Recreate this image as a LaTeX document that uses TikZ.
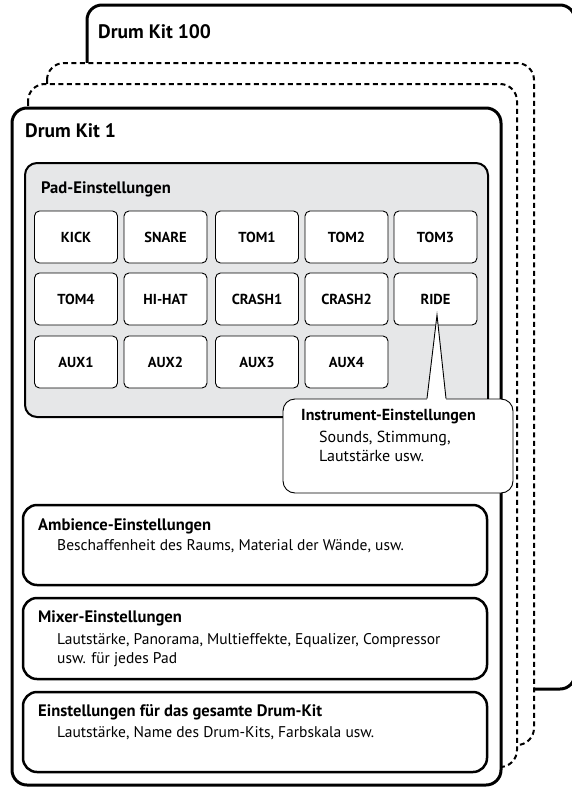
\documentclass[tikz,border=0pt]{standalone}
\usepackage{fontspec}
\setmainfont{PT Sans}
\definecolor{padgray}{HTML}{E6E7E8}
\newcommand{\kitfont}{\fontsize{19.5}{23}\selectfont\bfseries}
\newcommand{\headfont}{\fontsize{16.6}{20}\selectfont\bfseries}
\newcommand{\padfont}{\fontsize{14.5}{17}\selectfont\bfseries}
\newcommand{\subfont}{\fontsize{15.5}{19}\selectfont}

\begin{document}
\begin{tikzpicture}[x=1pt,y=-1pt,
  kit/.style={draw,line width=3pt,fill=white,rounded corners=15pt},
  kitdash/.style={draw,line width=2pt,dash pattern=on 5pt off 3.5pt,fill=white,rounded corners=17pt},
  padbox/.style={draw,line width=2pt,fill=padgray,rounded corners=12pt},
  pad/.style={draw,line width=0.9pt,fill=white,rounded corners=5pt,minimum width=83pt,minimum height=52pt,inner sep=0pt,font=\padfont},
  setbox/.style={draw,line width=2.5pt,fill=white,rounded corners=14pt},
  callout/.style={draw,line width=0.9pt,fill=white,rounded corners=12pt,minimum width=230pt,minimum height=94pt},
  head/.style={anchor=west,inner sep=0pt,font=\headfont},
  sub/.style={anchor=north west,inner sep=0pt,align=left,font=\subfont}]
  \useasboundingbox (0,0) rectangle (571,787);
  % the stack of kits, back to front
  \draw[kit] (87,5) rectangle (575,689);
  \draw[kitdash] (47,63) rectangle (534,745);
  \draw[kitdash] (28,84) rectangle (517,767);
  \draw[kit] (12,108) rectangle (501,785);
  \node[anchor=west,inner sep=0pt,font=\kitfont] (kithundred) at (98,32) {Drum Kit 100};
  \node[anchor=west,inner sep=0pt,font=\kitfont] (kitone) at (25,131) {Drum Kit 1};

  % pads
  \draw[padbox] (25,163) rectangle (488,417);
  \node[head] (padhead) at (41,189) {Pad-Einstellungen};
  \node[pad] (kick) at (76,237) {KICK};
  \node[pad] (snare) at (165.5,237) {SNARE};
  \node[pad] (tomone) at (257,237) {TOM1};
  \node[pad] (tomtwo) at (346.5,237) {TOM2};
  \node[pad] (tomthree) at (435.5,237) {TOM3};
  \node[pad] (tomfour) at (76,299) {TOM4};
  \node[pad] (hihat) at (165.5,299) {HI-HAT};
  \node[pad] (crashone) at (257,299) {CRASH1};
  \node[pad] (crashtwo) at (346.5,299) {CRASH2};
  \node[pad] (ride) at (435.5,299) {RIDE};
  \node[pad] (auxone) at (76,362) {AUX1};
  \node[pad] (auxtwo) at (165.5,362) {AUX2};
  \node[pad] (auxthree) at (257,362) {AUX3};
  \node[pad] (auxfour) at (346.5,362) {AUX4};

  % callout for one pad
  \node[callout] (instr) at (398,446) {};
  \coordinate (tip) at ([xshift=1.5pt,yshift=-16pt]ride.center);
  \fill[white] ([xshift=29pt,yshift=-1.5pt]instr.north) -- (tip) -- ([xshift=48pt,yshift=-1.5pt]instr.north) -- cycle;
  \draw[line width=0.9pt] ([xshift=29pt]instr.north) -- (tip) -- ([xshift=48pt]instr.north);
  \node[head,font=\fontsize{16}{19}\selectfont\bfseries] (instrhead) at (301,417) {Instrument-Einstellungen};
  \node[sub,font=\fontsize{16}{19}\selectfont] (instrtext) at (319,431) {Sounds, Stimmung,\\Lautstärke usw.};

  % the other settings
  \draw[setbox] (23,505) rectangle (487,585);
  \node[head] (ambhead) at (38,526) {Ambience-Einstellungen};
  \node[sub] (ambtext) at (57,539) {Beschaffenheit des Raums, Material der Wände, usw.};
  \draw[setbox] (23,598) rectangle (487,679);
  \node[head] (mixhead) at (38,618) {Mixer-Einstellungen};
  \node[sub] (mixtext) at (57,633) {Lautstärke, Panorama, Multieffekte, Equalizer, Compressor\\usw. für jedes Pad};
  \draw[setbox] (23,692) rectangle (487,772);
  \node[head] (kithead) at (38,712) {Einstellungen für das gesamte Drum-Kit};
  \node[sub] (kittext) at (57,726) {Lautstärke, Name des Drum-Kits, Farbskala usw.};
\end{tikzpicture}
\end{document}
